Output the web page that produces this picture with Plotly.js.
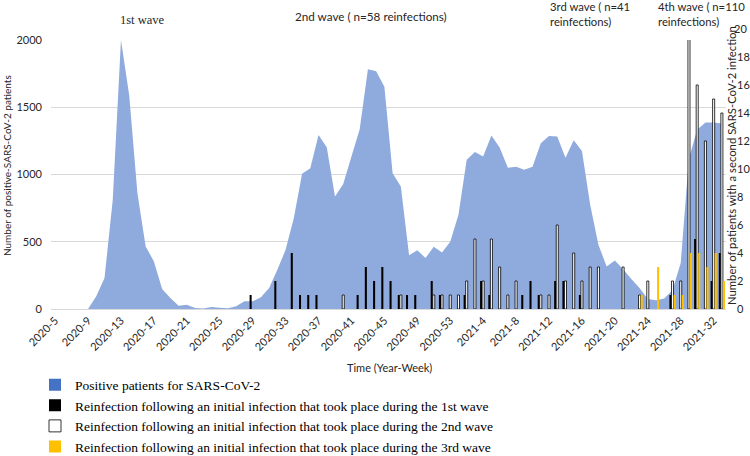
<!DOCTYPE html>
<html>
<head>
<meta charset="utf-8">
<script src="https://cdn.plot.ly/plotly-3.0.1.min.js"></script>
<style>html,body{margin:0;padding:0;background:#fff;}#chart{width:750px;height:456px;}</style>
</head>
<body>
<div id="chart"></div>
<script>
// Categories: year-week
const weeks = [
  "2020-5","2020-6","2020-7","2020-8","2020-9","2020-10","2020-11","2020-12","2020-13","2020-14",
  "2020-15","2020-16","2020-17","2020-18","2020-19","2020-20","2020-21","2020-22","2020-23","2020-24",
  "2020-25","2020-26","2020-27","2020-28","2020-29","2020-30","2020-31","2020-32","2020-33","2020-34",
  "2020-35","2020-36","2020-37","2020-38","2020-39","2020-40","2020-41","2020-42","2020-43","2020-44",
  "2020-45","2020-46","2020-47","2020-48","2020-49","2020-50","2020-51","2020-52","2020-53",
  "2021-1","2021-2","2021-3","2021-4","2021-5","2021-6","2021-7","2021-8","2021-9","2021-10",
  "2021-11","2021-12","2021-13","2021-14","2021-15","2021-16","2021-17","2021-18","2021-19","2021-20",
  "2021-21","2021-22","2021-23","2021-24","2021-25","2021-26","2021-27","2021-28","2021-29","2021-30",
  "2021-31","2021-32","2021-33"
];
// Positive patients per week
const positives = [
  0,0,0,0,0,94,230,810,2000,1590,
  860,465,354,149,82,25,32,7,3,15,
  10,5,20,57,57,87,156,292,440,676,
  1005,1047,1294,1203,837,930,1133,1337,1782,1768,
  1653,1010,910,400,436,379,462,420,500,
  700,1109,1168,1133,1290,1200,1050,1057,1035,1057,
  1233,1287,1282,1125,1255,1175,775,478,316,360,
  296,223,156,75,65,78,140,342,1121,1332,
  1386,1386,1380
];
// Reinfections, initial infection in 1st wave
const wave1Weeks = ["2020-29","2020-32","2020-34","2020-35","2020-36","2020-37","2020-42","2020-43","2020-44","2020-45",
  "2020-46","2020-47","2020-48","2020-49","2020-51","2020-52","2021-2","2021-4","2021-5","2021-9",
  "2021-10","2021-11","2021-13","2021-14","2021-16","2021-27","2021-30","2021-32","2021-33"];
const wave1Counts = [1,2,4,1,1,1,1,3,2,3, 2,1,1,1,2,1,1,2,1,1, 2,1,2,2,1,1,5,2,4];
// Reinfections, initial infection in 2nd wave
const wave2Weeks = ["2020-40","2020-47","2020-51","2020-52","2020-53","2021-1","2021-2","2021-3","2021-4","2021-5",
  "2021-6","2021-7","2021-8","2021-11","2021-12","2021-13","2021-14","2021-15","2021-16","2021-17",
  "2021-18","2021-21","2021-23","2021-24","2021-27","2021-28","2021-29","2021-30","2021-31","2021-32","2021-33"];
const wave2Counts = [1,1,1,1,1,1,2,5,2,5, 3,1,2,1,1,6,2,4,2,3, 3,3,1,2,2,2,20,16,12,15,14];
// Reinfections, initial infection in 3rd wave
const wave3Weeks = ["2021-23","2021-25","2021-27","2021-28","2021-29","2021-30","2021-31","2021-32","2021-33"];
const wave3Counts = [1,3,1,1,4,4,3,4,2];

const tickWeeks = weeks.filter((w, i) => i % 4 === 0);
const leftTicks = [0,500,1000,1500,2000];
const rightTicks = [0,2,4,6,8,10,12,14,16,18];

// geometry helpers (pixels -> paper)
const L = 51, R = 726, T = 40, B = 309;
const px = x => (x - L) / (R - L);
const py = y => (B - y) / (B - T);

const sans = "Lato, Open Sans, sans-serif";
const serif = "Liberation Serif, Times New Roman, serif";
const txt = '#262626';

const traces = [
  {type:'scatter', x: weeks, y: positives, mode:'none', fill:'tozeroy',
   fillcolor:'#8FAADC', showlegend:false, hoverinfo:'x+y', xaxis:'x', yaxis:'y'},
  {type:'scatter', x:[null], y:[null], mode:'markers', name:'Positive patients for SARS-CoV-2',
   marker:{symbol:'square', size:12, color:'#4472C4'}, legendgroup:'a', yaxis:'y'},
  {type:'bar', x: wave1Weeks, y: wave1Counts, yaxis:'y2', legendgroup:'b',
   name:'Reinfection following an initial infection that took place during the 1st wave',
   marker:{color:'#000000', line:{color:'#000000', width:0}}},
  {type:'bar', x: wave2Weeks, y: wave2Counts, yaxis:'y2', legendgroup:'c',
   name:'Reinfection following an initial infection that took place during the 2nd wave',
   marker:{color:'#ffffff', line:{color:'#000000', width:0.8}}},
  {type:'bar', x: wave3Weeks, y: wave3Counts, yaxis:'y2', legendgroup:'d',
   name:'Reinfection following an initial infection that took place during the 3rd wave',
   marker:{color:'#FFC000', line:{color:'#FFC000', width:0}}}
];

const annotations = [
  {text:'1st wave', x:px(142), y:py(20), xref:'paper', yref:'paper', xanchor:'center', yanchor:'middle',
   showarrow:false, font:{family:serif, size:12.5, color:txt}},
  {text:'2nd wave ( n=58 reinfections)', x:px(293), y:py(16), xref:'paper', yref:'paper', xanchor:'left', yanchor:'middle',
   showarrow:false, font:{family:sans, size:11.7, color:txt}},
  {text:'3rd wave ( n=41<br>reinfections)', x:px(548), y:py(14), xref:'paper', yref:'paper', xanchor:'left', yanchor:'middle',
   align:'left', showarrow:false, font:{family:sans, size:11.3, color:txt}},
  {text:'4th wave ( n=110<br>reinfections)', x:px(656), y:py(14), xref:'paper', yref:'paper', xanchor:'left', yanchor:'middle',
   align:'left', showarrow:false, font:{family:sans, size:11.3, color:txt}},
  {text:'Number of positive-SARS-CoV-2 patients', x:px(7), y:py(166), xref:'paper', yref:'paper', xanchor:'center', yanchor:'middle',
   textangle:-90, showarrow:false, font:{family:sans, size:10, color:txt}},
  {text:'Number of patients with a second SARS-CoV-2 infection', x:px(731), y:py(165), xref:'paper', yref:'paper', xanchor:'center', yanchor:'middle',
   textangle:-90, showarrow:false, font:{family:sans, size:11.3, color:txt}},
  {text:'20', x:px(732), y:py(28), xref:'paper', yref:'paper', xanchor:'left', yanchor:'middle',
   showarrow:false, font:{family:sans, size:11, color:txt}},
  {text:'Time (Year-Week)', x:px(389), y:py(367), xref:'paper', yref:'paper', xanchor:'center', yanchor:'middle',
   showarrow:false, font:{family:sans, size:11, color:txt}}
];

const layout = {
  width:750, height:456,
  margin:{l:L, r:750-R, t:T, b:456-B, pad:0, autoexpand:false},
  paper_bgcolor:'#ffffff', plot_bgcolor:'#ffffff',
  font:{family:sans, size:11, color:txt},
  barmode:'group', bargap:0.25, bargroupgap:0,
  showlegend:true,
  legend:{orientation:'v', x:px(35), y:py(369.5), xanchor:'left', yanchor:'top',
          font:{family:serif, size:13.5, color:'#000'}, bgcolor:'rgba(0,0,0,0)',
          traceorder:'normal', tracegroupgap:0.7, itemclick:false},
  xaxis:{type:'category', categoryorder:'array', categoryarray:weeks, range:[-0.5, weeks.length-0.5],
         tickmode:'array', tickvals:tickWeeks, ticktext:tickWeeks, tickangle:-45,
         tickfont:{family:sans, size:11, color:txt}, showgrid:false, zeroline:false,
         showline:true, linecolor:'#d9d9d9', linewidth:1, ticks:''},
  yaxis:{range:[0,2000], tickmode:'array', tickvals:leftTicks, showgrid:true, gridcolor:'#d9d9d9', gridwidth:1,
         zeroline:false, showline:false, ticks:'', ticklabelstandoff:8, tickfont:{family:sans, size:11, color:txt}},
  yaxis2:{overlaying:'y', side:'right', range:[0, (B-T)/14], tickmode:'array', tickvals:rightTicks,
          showgrid:false, zeroline:false, showline:false, ticks:'', ticklabelstandoff:10,
          tickfont:{family:sans, size:11, color:txt}},
  annotations:annotations
};

Plotly.newPlot('chart', traces, layout, {displayModeBar:false, staticPlot:true});
</script>
</body>
</html>
